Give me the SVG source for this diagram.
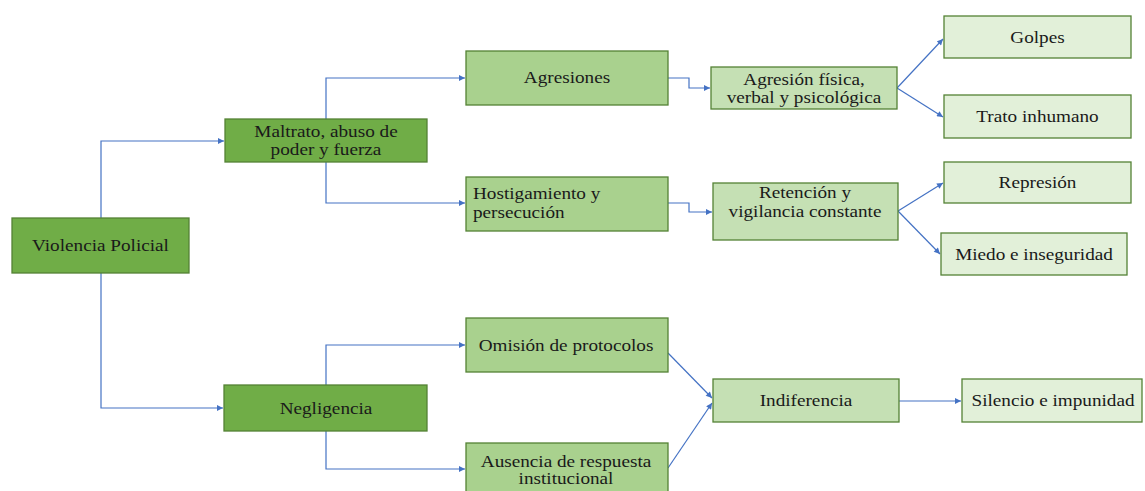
<svg xmlns="http://www.w3.org/2000/svg" width="1145" height="491" viewBox="0 0 1145 491">
<style>
.n rect{stroke:#548235;stroke-width:1.3}
.d rect{fill:#70AD47}
.m rect{fill:#A9D18E}
.l rect{fill:#C5E0B4}
.x rect{fill:#E2F0D9}
text{font-size:16px;fill:#1a1a1a;text-anchor:middle}
text.s{text-anchor:start}
#connectors path{fill:none;stroke:#4472C4;stroke-width:1.2;marker-end:url(#a)}
</style>
<defs>
<marker id="a" viewBox="0 0 8 8" refX="8" refY="4" markerWidth="7" markerHeight="6" markerUnits="userSpaceOnUse" orient="auto">
<path d="M0,0 L8,4 L0,8 z" fill="#4472C4"/>
</marker>
</defs>
<g id="connectors">
<path d="M101,218 V141 H224"/>
<path d="M101,273 V408 H223"/>
<path d="M326,119 V78 H465"/>
<path d="M326,162 V203 H465"/>
<path d="M668,78 H689 V88 H710"/>
<path d="M668,203 H689 V212 H712"/>
<path d="M897,88 L943,39"/>
<path d="M897,88 L943,117"/>
<path d="M898,211 L943,183"/>
<path d="M898,211 L940,254"/>
<path d="M326,385 V345 H465"/>
<path d="M326,431 V469 H465"/>
<path d="M668,353 L712,398"/>
<path d="M668,468 L712,403"/>
<path d="M899,401 H961"/>
</g>
<g font-family="'Liberation Serif', 'DejaVu Serif', serif">
<g id="violencia" class="n d"><rect x="12" y="218" width="177" height="55"/><text transform="matrix(1.2,0,0,1,100.5,0)" y="251">Violencia Policial</text></g>
<g id="maltrato" class="n d"><rect x="225" y="119" width="202" height="43"/><text transform="matrix(1.2,0,0,1,326,0)" y="137">Maltrato, abuso de</text><text transform="matrix(1.2,0,0,1,326,0)" y="155">poder y fuerza</text></g>
<g id="negligencia" class="n d"><rect x="224" y="385" width="203" height="46"/><text transform="matrix(1.2,0,0,1,326,0)" y="414">Negligencia</text></g>
<g id="agresiones" class="n m"><rect x="466" y="51" width="202" height="54"/><text transform="matrix(1.2,0,0,1,567,0)" y="83">Agresiones</text></g>
<g id="hostigamiento" class="n m"><rect x="466" y="177" width="202" height="54"/><text class="s" transform="matrix(1.2,0,0,1,473,0)" y="199">Hostigamiento y</text><text class="s" transform="matrix(1.2,0,0,1,473,0)" y="218">persecución</text></g>
<g id="omision" class="n m"><rect x="466" y="318" width="202" height="54"/><text transform="matrix(1.2,0,0,1,566,0)" y="351">Omisión de protocolos</text></g>
<g id="ausencia" class="n m"><rect x="466" y="443" width="202" height="60"/><text transform="matrix(1.2,0,0,1,566,0)" y="467">Ausencia de respuesta</text><text transform="matrix(1.2,0,0,1,566,0)" y="484">institucional</text></g>
<g id="agresion-fisica" class="n l"><rect x="711" y="67" width="186" height="42"/><text transform="matrix(1.2,0,0,1,804,0)" y="85">Agresión física,</text><text transform="matrix(1.2,0,0,1,804,0)" y="103">verbal y psicológica</text></g>
<g id="retencion" class="n l"><rect x="713" y="183" width="185" height="57"/><text transform="matrix(1.2,0,0,1,805,0)" y="198">Retención y</text><text transform="matrix(1.2,0,0,1,805,0)" y="217">vigilancia constante</text></g>
<g id="indiferencia" class="n l"><rect x="713" y="379" width="186" height="43"/><text transform="matrix(1.2,0,0,1,806,0)" y="406">Indiferencia</text></g>
<g id="golpes" class="n x"><rect x="944" y="16" width="187" height="42"/><text transform="matrix(1.2,0,0,1,1037.5,0)" y="43">Golpes</text></g>
<g id="trato" class="n x"><rect x="944" y="95" width="187" height="43"/><text transform="matrix(1.2,0,0,1,1037.5,0)" y="122">Trato inhumano</text></g>
<g id="represion" class="n x"><rect x="944" y="162" width="187" height="41"/><text transform="matrix(1.2,0,0,1,1037.5,0)" y="188">Represión</text></g>
<g id="miedo" class="n x"><rect x="941" y="233" width="186" height="42"/><text transform="matrix(1.2,0,0,1,1034,0)" y="260">Miedo e inseguridad</text></g>
<g id="silencio" class="n x"><rect x="962" y="379" width="180" height="43"/><text transform="matrix(1.2,0,0,1,1053,0)" y="406">Silencio e impunidad</text></g>
</g>
</svg>
